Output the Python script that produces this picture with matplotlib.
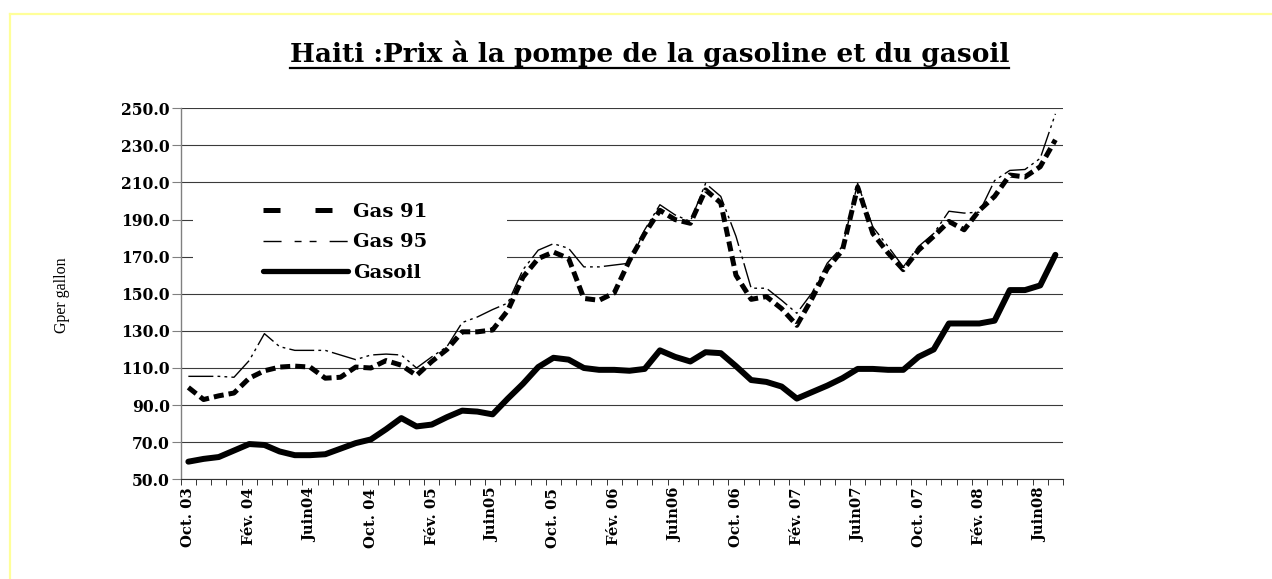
import matplotlib
matplotlib.use("Agg")
import matplotlib.pyplot as plt
import numpy as np
from matplotlib.lines import Line2D
from matplotlib.patches import Rectangle

# monthly series, Oct 2003 .. Jul 2008 (gourdes per gallon)
tick_labels = ["Oct. 03", "Fév. 04", "Juin04", "Oct. 04", "Fév. 05", "Juin05",
               "Oct. 05", "Fév. 06", "Juin06", "Oct. 06", "Fév. 07", "Juin07",
               "Oct. 07", "Fév. 08", "Juin08"]

gas91 = [99.5, 93, 95, 96.5, 104.5, 108.5, 110.5, 111, 110.5, 104.5,
         105, 110.5, 110, 114, 111.5, 106, 113.5, 120, 129.5, 129.5,
         130.5, 141, 159, 169, 172.5, 169, 147.5, 146.5, 150.5, 168,
         182.5, 195, 190, 188, 206, 199, 160, 147, 148.5, 142,
         133, 147.5, 163.5, 173.5, 207.5, 182.5, 172, 163, 173.5, 181,
         189, 184.5, 195, 202.5, 214, 213, 218.5, 233]

gas95 = [105.5, 105.5, 105.5, 105, 114, 128.5, 121.5, 119.5, 119.5, 119.5,
         117, 114.5, 117, 117.5, 117, 110, 116, 121.5, 134.5, 137.5,
         141.5, 145, 163, 173.5, 177, 174.5, 164.5, 164.5, 165.5, 166.5,
         184.5, 198, 192.5, 189, 209.5, 202.5, 181, 153, 153, 146.5,
         139.5, 150.5, 166.5, 175.5, 209.5, 186, 175.5, 164.5, 175.5, 182.5,
         194.5, 193.5, 194, 211, 216.5, 217, 223, 247]

gasoil = [59.5, 61, 62, 65.5, 69, 68.5, 65, 63, 63, 63.5,
          66.5, 69.5, 71.5, 77, 83, 78.5, 79.5, 83.5, 87, 86.5,
          85, 93.5, 101.5, 110.5, 115.5, 114.5, 110, 109, 109, 108.5,
          109.5, 119.5, 116, 113.5, 118.5, 118, 111, 103.5, 102.5, 100,
          93.5, 97, 100.5, 104.5, 109.5, 109.5, 109, 109, 116, 120,
          134, 134, 134, 135.5, 152, 152, 154.5, 171]

SERIF = "DejaVu Serif"

fig = plt.figure(figsize=(12.72, 5.79), dpi=100)
ax = fig.add_axes([0.1421, 0.1722, 0.6936, 0.6408])

x = np.arange(len(gasoil))

ax.plot(x, gas91, color="black", linewidth=3.6, dashes=(2.0, 1.0),
        dash_capstyle="butt", zorder=3)
ax.plot(x, gas95, color="black", linewidth=1.0, dashes=(18, 3, 2, 3, 2, 3),
        zorder=4)
ax.plot(x, gasoil, color="black", linewidth=4.3, solid_capstyle="round",
        solid_joinstyle="round", zorder=5)

ax.set_xlim(-0.5, len(gasoil) - 0.5)
ax.set_ylim(50, 250)

# y axis
ax.set_yticks(np.arange(50, 251, 20))
ax.set_yticklabels([f"{v:.1f}" for v in np.arange(50, 251, 20)])
ax.tick_params(axis="y", direction="out", length=6.5, width=0.8, pad=1.5,
               color="#808080")
ax.grid(axis="y", color="#3a3a3a", linewidth=0.8)
ax.set_axisbelow(True)

# x axis: ticks between months, labels every 4 months
ax.set_xticks(np.arange(-0.5, len(gasoil), 1))
ax.set_xticklabels([])
ax.tick_params(axis="x", which="major", direction="out", length=4,
               width=0.7, color="#333333")
ax.set_xticks(np.arange(0, len(gasoil), 4), minor=True)
ax.set_xticklabels(tick_labels, minor=True, rotation=90)
ax.tick_params(axis="x", which="minor", length=0, pad=6)

for lab in ax.get_xticklabels(minor=True) + ax.get_yticklabels():
    lab.set_fontfamily(SERIF)
    lab.set_fontweight("bold")
for lab in ax.get_xticklabels(minor=True):
    lab.set_fontsize(10.6)
for lab in ax.get_yticklabels():
    lab.set_fontsize(11.2)

for s in ["top", "right"]:
    ax.spines[s].set_visible(False)
ax.spines["left"].set_color("#808080")
ax.spines["bottom"].set_color("#333333")
ax.spines["left"].set_linewidth(1.0)
ax.spines["bottom"].set_linewidth(0.8)

# white legend area hiding grid lines
ax.add_patch(Rectangle((0.0136, 0.551), 0.356, 0.20, transform=ax.transAxes,
                       facecolor="white", edgecolor="none", zorder=1.5))

handles = [
    Line2D([], [], color="black", linewidth=3.6, dashes=(3.4, 7.0),
           dash_capstyle="butt"),
    Line2D([], [], color="black", linewidth=1.0,
           dashes=(13, 9.4, 5, 5.8, 5, 9.4)),
    Line2D([], [], color="black", linewidth=3.8, solid_capstyle="round"),
]
leg = ax.legend(handles, ["Gas 91", "Gas 95", "Gasoil"], loc="upper left",
                bbox_to_anchor=(0.093, 0.745), frameon=False, borderpad=0,
                borderaxespad=0, handlelength=4.4, handletextpad=0.26,
                labelspacing=0.64,
                prop={"family": SERIF, "weight": "bold", "size": 14})

# title with underline
title = fig.text(0.5106, 0.893, "Haiti :Prix à la pompe de la gasoline et du gasoil",
                 ha="center", va="baseline", family=SERIF, fontweight="bold",
                 fontsize=19)
fig.text(0.0487, 0.4905, "Gper gallon", rotation=90, ha="center", va="center",
         family="Liberation Serif", fontsize=11.5)

fig.canvas.draw()
bb = title.get_window_extent()
uy = 1 - 67.5 / 579
fig.add_artist(Line2D([bb.x0 / 1272, bb.x1 / 1272], [uy, uy],
                      transform=fig.transFigure, color="black", linewidth=1.6))

# light yellow frame (top and left)
fig.add_artist(Line2D([10 / 1272, 1], [1 - 14 / 579, 1 - 14 / 579],
                      transform=fig.transFigure, color="#ffff99", linewidth=1.6))
fig.add_artist(Line2D([10 / 1272, 10 / 1272], [0, 1 - 14 / 579],
                      transform=fig.transFigure, color="#ffff99", linewidth=1.6))

fig.savefig("out.png", dpi=100)
